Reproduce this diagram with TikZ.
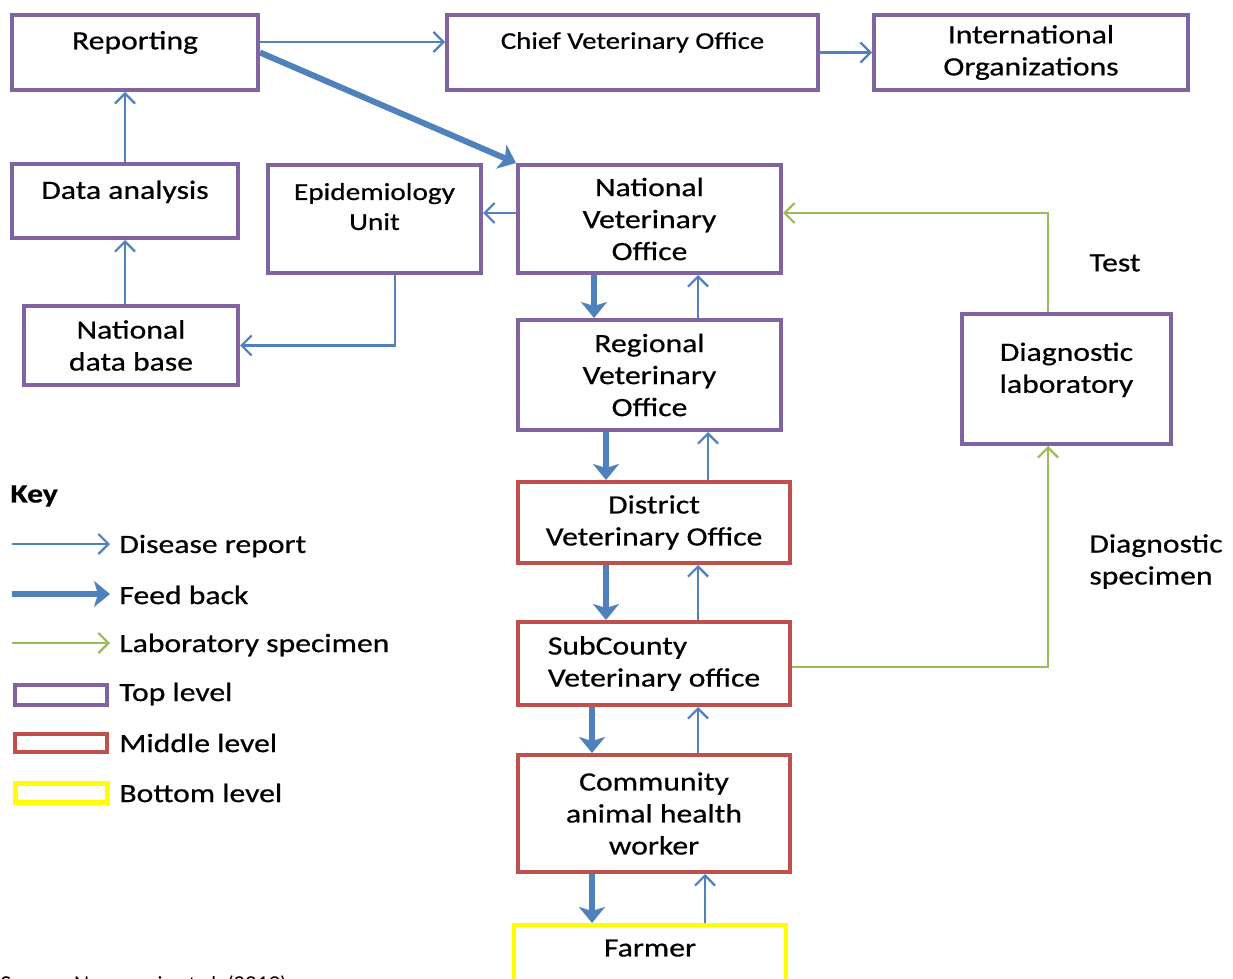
\documentclass[tikz,border=0pt]{standalone}
\usepackage{fontspec}
\setmainfont{Carlito}[FakeStretch=1.2, FakeBold=0.6]
\newfontfamily\srcfont{Lato}
\usetikzlibrary{arrows.meta}
\definecolor{vpurple}{HTML}{8064A2}
\definecolor{vred}{HTML}{C0504D}
\definecolor{vyellow}{HTML}{FFFF00}
\definecolor{vblue}{HTML}{4F81BD}
\definecolor{vgreen}{HTML}{9BBB59}
\begin{document}
\begin{tikzpicture}
        [x=0.5pt, y=-0.5pt,
          font=\fontsize{13.2}{16}\selectfont,
          lvl/.style={
            draw,
            line width=2pt,
            align=center,
            inner sep=2pt},
          toplvl/.style={lvl, draw=vpurple},
          midlvl/.style={lvl, draw=vred},
          lowlvl/.style={lvl, draw=vyellow},
          keytext/.style={anchor=west, inner sep=0pt},
          report/.style={draw=vblue, line width=1.1pt,
            -{Straight Barb[length=5pt,width=10pt]}},
          feedback/.style={draw=vblue, line width=3pt,
            -{Stealth[length=8pt,width=13pt,inset=2pt]}},
          specimen/.style={draw=vgreen, line width=1.1pt,
            -{Straight Barb[length=5pt,width=10pt]}}]
        \useasboundingbox (0,0) rectangle (1233,979);

        % top level
        \node[toplvl, minimum width=123pt, minimum height=37.5pt, text depth=12.3pt] (rep) at (135,52.5) {Reporting};
        \node[toplvl, minimum width=185.5pt, minimum height=37.5pt, text depth=12pt,
          font=\fontsize{12}{15}\selectfont] (cvo) at (632.5,52.5) {Chief Veterinary Office};
        \node[toplvl, minimum width=157pt, minimum height=37.5pt] (intl) at (1031,52.5) {International\\Organizations};
        \node[toplvl, minimum width=113pt, minimum height=37pt, text depth=11.3pt] (dan) at (125,201) {Data analysis};
        \node[toplvl, minimum width=106.5pt, minimum height=54pt, text depth=12.5pt,
          font=\fontsize{12.2}{15}\selectfont] (epi) at (374.5,219) {Epidemiology\\Unit};
        \node[toplvl, minimum width=131.5pt, minimum height=54pt] (nvo) at (649.5,219) {National\\Veterinary\\Office};
        \node[toplvl, minimum width=107pt, minimum height=39.5pt] (ndb) at (131,345.5) {National\\data base};
        \node[toplvl, minimum width=131.5pt, minimum height=55pt] (rvo) at (649.5,375) {Regional\\Veterinary\\Office};
        \node[toplvl, minimum width=104.5pt, minimum height=65pt, text depth=11.3pt] (lab) at (1066.5,379) {Diagnostic\\laboratory};

        % middle and bottom level
        \node[midlvl, minimum width=136pt, minimum height=40.5pt] (dvo) at (654,522.5) {District\\Veterinary Office};
        \node[midlvl, minimum width=136pt, minimum height=41.5pt, align=left] (sub) at (654,663.5) {SubCounty\\Veterinary office};
        \node[midlvl, minimum width=136pt, minimum height=58.5pt] (cahw) at (654,813.5) {Community\\animal health\\worker};
        \node[lowlvl, minimum width=136pt, minimum height=40.5pt, text depth=17.5pt] (farm) at (650,965.5) {Farmer};

        \node (test) at (1115,263) {Test};
        \node[keytext, align=left] (dspec) at (1089,561.5) {Diagnostic\\specimen};

        % connectors
        \draw[report] ([yshift=5.25pt]rep.east) -- ([yshift=5.25pt]cvo.west);
        \draw[report] (cvo.east) -- (intl.west);
        \draw[feedback] (rep.east) -- (nvo.north west);
        \draw[report] (dan.north) -- (dan.north |- rep.south);
        \draw[report] (dan.south |- ndb.north) -- (dan.south);
        \draw[report] ([yshift=3pt]nvo.west) -- ([yshift=3pt]epi.east);
        \draw[report] ([xshift=10.25pt]epi.south) |- (ndb.east);
        \draw[feedback] (594,0 |- nvo.south) -- (594,0 |- rvo.north);
        \draw[report] (698,0 |- rvo.north) -- (698,0 |- nvo.south);
        \draw[feedback] (606,0 |- rvo.south) -- (606,0 |- dvo.north);
        \draw[report] (708,0 |- dvo.north) -- (708,0 |- rvo.south);
        \draw[feedback] (606,0 |- dvo.south) -- (606,0 |- sub.north);
        \draw[report] (698,0 |- sub.north) -- (698,0 |- dvo.south);
        \draw[feedback] (592,0 |- sub.south) -- (592,0 |- cahw.north);
        \draw[report] (698,0 |- cahw.north) -- (698,0 |- sub.south);
        \draw[feedback] (592,0 |- cahw.south) -- (592,0 |- farm.north);
        \draw[report] (705,0 |- farm.north) -- (705,0 |- cahw.south);
        \draw[specimen] ([yshift=-1.75pt]sub.east) -| ([xshift=-9.25pt]lab.south);
        \draw[specimen] ([xshift=-9.25pt]lab.north) |- ([yshift=3pt]nvo.east);

        % key
        \node[keytext, font=\fontsize{13.2}{16}\selectfont\bfseries] (key) at (10,496) {Key};
        \node[keytext] (kdis) at (119,546) {Disease report};
        \node[keytext] (kfb) at (119,595) {Feed back};
        \node[keytext] (klab) at (119,645) {Laboratory specimen};
        \node[keytext] (ktop) at (119,694) {Top level};
        \node[keytext] (kmid) at (119,743) {Middle level};
        \node[keytext] (kbot) at (119,793) {Bottom level};
        \draw[report] (12,544) -- ([xshift=-4.5pt]kdis.west |- 0,544);
        \draw[feedback] (12,594) -- ([xshift=-4.5pt]kfb.west |- 0,594);
        \draw[specimen] (12,643) -- ([xshift=-4.5pt]klab.west |- 0,643);
        \draw[vpurple, line width=2pt] (15,685) rectangle (107,705);
        \draw[vred, line width=2pt] (15,734) rectangle (107,752);
        \draw[vyellow, line width=2.5pt] (15,783) rectangle (107,802);

        \node[anchor=base west, inner sep=0pt, font=\srcfont\fontsize{10.2}{12}\selectfont] (src) at (0,991) {Source: Namayanja et al. (2019)};
      \end{tikzpicture}
\end{document}
